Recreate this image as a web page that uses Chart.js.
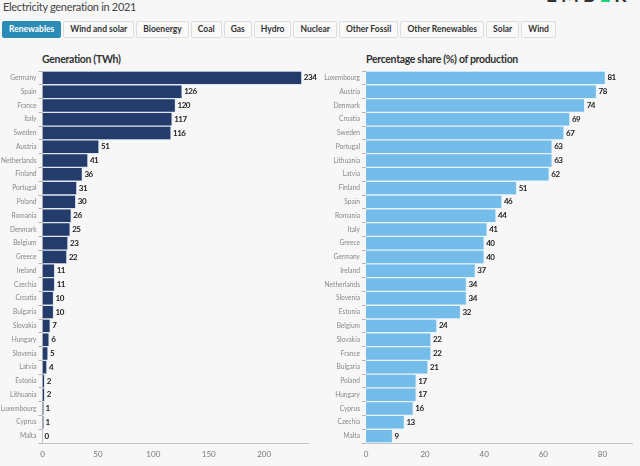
<!DOCTYPE html>
<html>
<head>
<meta charset="utf-8">
<script src="https://cdn.jsdelivr.net/npm/chart.js@4"></script>
<style>
  html, body { margin: 0; padding: 0; width: 640px; height: 466px; overflow: hidden; background: #f7f7f7; font-family: Lato, sans-serif; }
  .page-title { position: absolute; left: 3px; top: 0; font-size: 11px; line-height: 13px; letter-spacing: -0.3px; color: #444; }
  .logo { position: absolute; left: 546px; top: -15px; font-size: 19px; line-height: 19px; font-weight: 700; letter-spacing: 4px; color: #333; white-space: nowrap; }
  .logo span { color: #1fd07a; }
  .tabs { position: absolute; left: 2px; top: 21px; display: flex; gap: 2px; }
  .tab { height: 15px; line-height: 15px; padding: 0 6px; border: 1px solid #ddd; border-radius: 2px; background: #f9f9f9; color: #333; font-size: 8.5px; font-weight: 700; white-space: nowrap; }
  .tab.on { background: #2b8cb8; border-color: #2b8cb8; color: #fff; }
  .chart-title { position: absolute; top: 53px; font-size: 10.5px; line-height: 13px; letter-spacing: -0.32px; font-weight: 700; color: #333; }
  canvas { position: absolute; top: 66px; }
</style>
</head>
<body>
<div class="page-title">Electricity generation in 2021</div>
<div class="logo">EMB<span>E</span>R</div>
<div class="tabs" id="tabs"></div>
<div class="chart-title" style="left:42px">Generation (TWh)</div>
<div class="chart-title" style="left:366px">Percentage share (%) of production</div>
<canvas id="chart-gen" style="left:0"></canvas>
<canvas id="chart-share" style="left:320px"></canvas>
<script>
const tabNames = ['Renewables', 'Wind and solar', 'Bioenergy', 'Coal', 'Gas', 'Hydro', 'Nuclear', 'Other Fossil', 'Other Renewables', 'Solar', 'Wind'];

const genCountries = ['Germany', 'Spain', 'France', 'Italy', 'Sweden', 'Austria', 'Netherlands', 'Finland', 'Portugal', 'Poland', 'Romania', 'Denmark', 'Belgium', 'Greece', 'Ireland', 'Czechia', 'Croatia', 'Bulgaria', 'Slovakia', 'Hungary', 'Slovenia', 'Latvia', 'Estonia', 'Lithuania', 'Luxembourg', 'Cyprus', 'Malta'];
const genValues = [234, 126, 120, 117, 116, 51, 41, 36, 31, 30, 26, 25, 23, 22, 11, 11, 10, 10, 7, 6, 5, 4, 2, 2, 1, 1, 0];
const genTicks = [0, 50, 100, 150, 200];

const shareCountries = ['Luxembourg', 'Austria', 'Denmark', 'Croatia', 'Sweden', 'Portugal', 'Lithuania', 'Latvia', 'Finland', 'Spain', 'Romania', 'Italy', 'Greece', 'Germany', 'Ireland', 'Netherlands', 'Slovenia', 'Estonia', 'Belgium', 'Slovakia', 'France', 'Bulgaria', 'Poland', 'Hungary', 'Cyprus', 'Czechia', 'Malta'];
const shareValues = [81, 78, 74, 69, 67, 63, 63, 62, 51, 46, 44, 41, 40, 40, 37, 34, 34, 32, 24, 22, 22, 21, 17, 17, 16, 13, 9];
const shareTicks = [0, 20, 40, 60, 80];

document.getElementById('tabs').innerHTML = tabNames
  .map((t, i) => `<div class="tab${i === 0 ? ' on' : ''}">${t}</div>`).join('');

// value at the end of each bar
const valueLabels = {
  id: 'valueLabels',
  afterDatasetsDraw(chart) {
    const { ctx } = chart;
    const meta = chart.getDatasetMeta(0);
    ctx.save();
    ctx.font = 'bold 8px Lato, sans-serif';
    ctx.letterSpacing = '-0.5px';
    ctx.fillStyle = '#222';
    ctx.textBaseline = 'middle';
    meta.data.forEach((bar, i) => {
      ctx.fillText(chart.data.datasets[0].data[i], bar.x + 2, bar.y);
    });
    ctx.restore();
  },
};

function makeChart(id, labels, values, ticks, max, color, edge, axisWidth, rightPad) {
  const el = document.getElementById(id);
  el.width = 320;
  el.height = 400;
  el.style.width = '320px';
  el.style.height = '400px';
  return new Chart(el, {
    type: 'bar',
    data: {
      labels,
      datasets: [{ data: values, backgroundColor: color, borderColor: edge, borderWidth: 1, barPercentage: 1, categoryPercentage: 1 }],
    },
    options: {
      indexAxis: 'y',
      responsive: false,
      animation: false,
      devicePixelRatio: 1,
      layout: { padding: { top: 5, right: rightPad } },
      plugins: { legend: { display: false }, tooltip: { enabled: false } },
      scales: {
        y: {
          afterFit: s => { s.width = axisWidth; s.paddingTop = 0; s.paddingBottom = 0; },
          grid: { display: true, drawOnChartArea: false, drawTicks: true, tickLength: 4, color: '#b5b5b5' },
          border: { color: '#c4c4c4' },
          ticks: { color: '#888', font: { family: 'Lato', size: 6.6 }, padding: 2, autoSkip: false },
        },
        x: {
          min: 0, max,
          afterFit: s => { s.height = 23; },
          afterBuildTicks: s => { s.ticks = ticks.map(value => ({ value })); },
          grid: { display: false },
          border: { color: '#c4c4c4' },
          ticks: { color: '#777', font: { family: 'Lato', size: 8 }, padding: -1 },
        },
      },
    },
    plugins: [valueLabels],
  });
}

makeChart('chart-gen', genCountries, genValues, genTicks, 240, '#243c6b', '#dfe6f0', 42.5, 11.5);
makeChart('chart-share', shareCountries, shareValues, shareTicks, 90, '#74bdea', '#e8f3fb', 46, 8);
</script>
</body>
</html>
